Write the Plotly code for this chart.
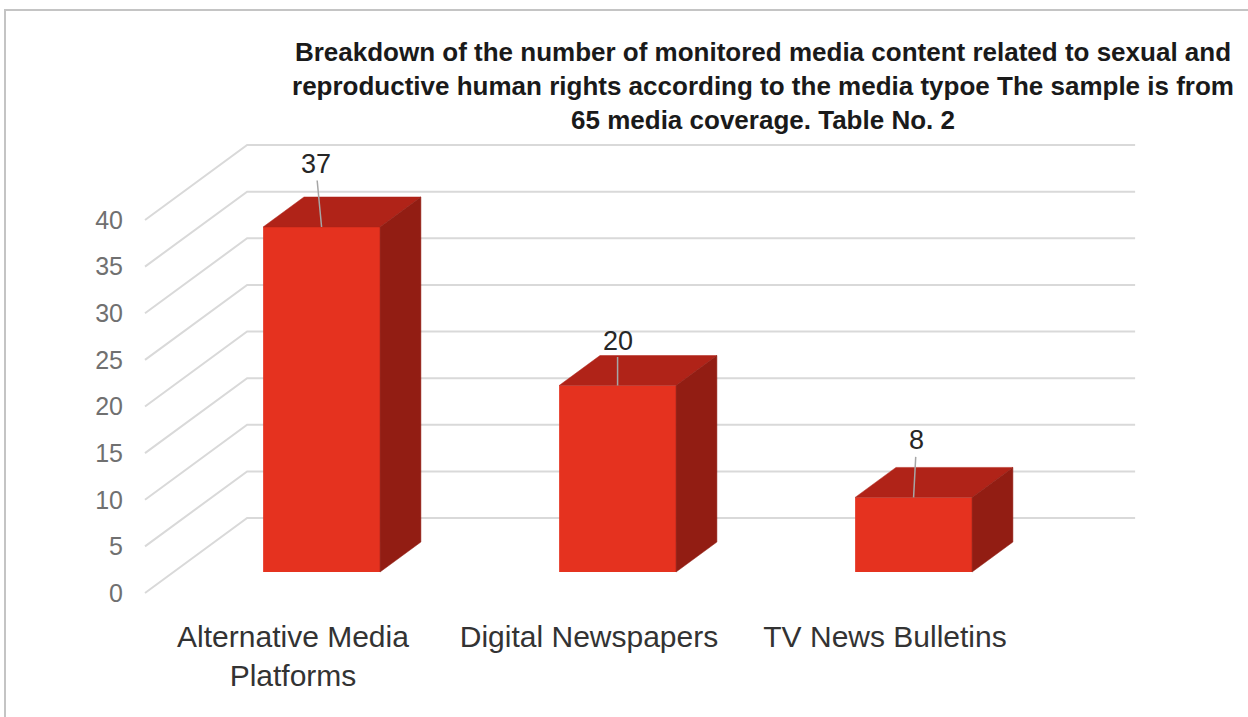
import plotly.graph_objects as go

# ---- data ----
categories = ["Alternative Media<br>Platforms", "Digital Newspapers", "TV News Bulletins"]
counts = [37, 20, 8]
y_ticks = [0, 5, 10, 15, 20, 25, 30, 35, 40]
title_lines = [
    "Breakdown of the number of monitored media content related to sexual and",
    "reproductive human rights according to the media typoe The sample is from",
    "65 media coverage. Table No. 2",
]

# ---- oblique "3-D" projection helpers ----
# moving one full floor depth shifts a point right by DEPTH_X (category units)
# and up by DEPTH_Y (value units)
DEPTH_X = 0.345
DEPTH_Y = 8.04
BAR_FRONT = 0.28   # depth fraction of the bar's front face
BAR_BACK = 0.68    # depth fraction of the bar's back face
BAR_W = 0.395      # bar width in category units
FLOOR_X0, FLOOR_X1 = -0.5, 2.5

FRONT = "#E5321F"
TOP = "#B02318"
SIDE = "#921D13"
GRID = "#D9D9D9"
FONT = "Liberation Sans Narrow, Arial Narrow, Liberation Sans, Arial, sans-serif"


def proj(x, v, d):
    return x + d * DEPTH_X, v + d * DEPTH_Y


fig = go.Figure()

# back wall + side wall gridlines (below all traces)
shapes = []
for v in y_ticks:
    p0 = proj(FLOOR_X0, v, 0)
    p1 = proj(FLOOR_X0, v, 1)
    p2 = proj(FLOOR_X1, v, 1)
    shapes.append(dict(
        type="path", xref="x", yref="y", layer="below",
        path=f"M {p0[0]},{p0[1]} L {p1[0]},{p1[1]} L {p2[0]},{p2[1]}",
        line=dict(color=GRID, width=2),
    ))

# outer chart frame
shapes.append(dict(
    type="rect", xref="paper", yref="paper",
    x0=(5 - 130) / 1118, x1=1.01, y0=-0.2, y1=(612 - 10) / 612,
    line=dict(color="#C4C4C4", width=2), layer="above",
))

# front faces of the bars
front_x = [i + BAR_FRONT * DEPTH_X for i in range(len(counts))]
fig.add_trace(go.Bar(
    x=front_x, y=counts, base=BAR_FRONT * DEPTH_Y, width=BAR_W,
    marker=dict(color=FRONT, line=dict(width=0)), hoverinfo="skip",
))

# top and right-side faces
for i, v in enumerate(counts):
    xl, xr = i - BAR_W / 2, i + BAR_W / 2
    top = [proj(xl, v, BAR_FRONT), proj(xr, v, BAR_FRONT),
           proj(xr, v, BAR_BACK), proj(xl, v, BAR_BACK)]
    side = [proj(xr, v, BAR_FRONT), proj(xr, v, BAR_BACK),
            proj(xr, 0, BAR_BACK), proj(xr, 0, BAR_FRONT)]
    for pts, col in ((top, TOP), (side, SIDE)):
        fig.add_trace(go.Scatter(
            x=[p[0] for p in pts] + [pts[0][0]],
            y=[p[1] for p in pts] + [pts[0][1]],
            mode="lines", fill="toself", fillcolor=col,
            line=dict(color=col, width=0.5), hoverinfo="skip",
        ))

# value labels with leader lines to the front top edge
label_shift = [(-6, -63), (0, -45), (3, -57)]
annotations = []
for i, v in enumerate(counts):
    tx, ty = proj(i, v, BAR_FRONT)
    annotations.append(dict(
        x=tx, y=ty, xref="x", yref="y", text=str(v),
        showarrow=True, arrowhead=0, arrowwidth=1.5, arrowcolor="#A6A6A6",
        ax=label_shift[i][0], ay=label_shift[i][1], standoff=0,
        font=dict(family=FONT, size=27, color="#262626"),
    ))

fig.update_layout(
    width=1248, height=717,
    margin=dict(l=130, r=0, t=0, b=105),
    paper_bgcolor="white", plot_bgcolor="white",
    showlegend=False,
    shapes=shapes,
    annotations=annotations,
    title=dict(
        text="<br>".join(title_lines),
        x=763 / 1248, xanchor="center", xref="container",
        y=1 - 61 / 717, yanchor="top", yref="container",
        font=dict(family=FONT, size=26, color="#1a1a1a", weight="bold"),
    ),
    xaxis=dict(
        range=[(130 - 293) / 296, (1248 - 293) / 296],
        tickvals=[0, 1, 2], ticktext=categories, ticklabelstandoff=4,
        showgrid=False, zeroline=False, showline=False, ticks="",
        tickfont=dict(family=FONT, size=30, color="#333333"),
    ),
    yaxis=dict(
        range=[(593 - 612) / 9.325, 593 / 9.325],
        tickvals=y_ticks, ticklabelstandoff=6,
        showgrid=False, zeroline=False, showline=False, ticks="",
        tickfont=dict(family=FONT, size=25, color="#707070"),
    ),
)

fig.write_html("out.html")
